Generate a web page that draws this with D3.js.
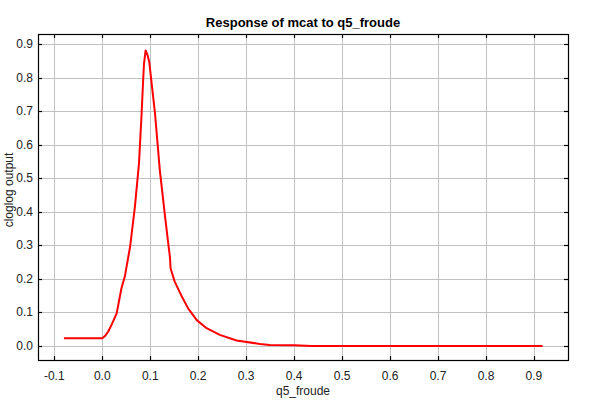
<!DOCTYPE html>
<html lang="en">
<head>
    <meta charset="UTF-8">
    <title>Response of mcat to q5_froude</title>
    <style>
        body { margin: 0; background: #fff; }
        text { font-family: "Liberation Sans", Arial, sans-serif; }
        .grid line { stroke: #c0c0c0; stroke-width: 1px; }
        .tick-label { font-size: 12px; fill: #222; }
    </style>
</head>
<body>
    <div id="chart"></div>
    <script src="https://d3js.org/d3.v7.min.js"></script>
    <script>
        // response curve
        const xVals = [-0.08, 0.0, 0.006, 0.0125, 0.02, 0.03, 0.040, 0.047, 0.058, 0.068, 0.0765, 0.082, 0.0855, 0.087, 0.0904,
            0.0946, 0.098, 0.103, 0.110, 0.120, 0.131, 0.1375, 0.141, 0.1425, 0.151, 0.165, 0.179, 0.197, 0.2175, 0.245, 0.280,
            0.3285, 0.349, 0.40, 0.436, 0.60, 0.80, 0.918];
        const yVals = [0.023, 0.023, 0.030, 0.043, 0.065, 0.097, 0.172, 0.207, 0.296, 0.415, 0.544, 0.693, 0.802, 0.842, 0.882,
            0.867, 0.847, 0.783, 0.693, 0.524, 0.385, 0.306, 0.266, 0.231, 0.192, 0.150, 0.112, 0.077, 0.053, 0.033, 0.016,
            0.006, 0.003, 0.002, 0.0, 0.0, 0.0, 0.0];
        const xTicks = [-0.1, 0.0, 0.1, 0.2, 0.3, 0.4, 0.5, 0.6, 0.7, 0.8, 0.9];
        const yTicks = [0.0, 0.1, 0.2, 0.3, 0.4, 0.5, 0.6, 0.7, 0.8, 0.9];

        const width = 600, height = 400;
        const plot = { left: 38, right: 568, top: 34, bottom: 360 };

        const svg = d3.select("#chart").append("svg")
            .attr("width", width)
            .attr("height", height);

        const x = d3.scaleLinear().domain([-0.134, 0.971]).range([plot.left, plot.right]);
        const y = d3.scaleLinear().domain([-0.042, 0.931]).range([plot.bottom, plot.top]);
        const fmt = d => d.toFixed(1);

        // grid
        const grid = svg.append("g").attr("class", "grid");
        grid.selectAll(".vx").data(xTicks).enter().append("line")
            .attr("x1", d => Math.round(x(d)) + 0.5).attr("x2", d => Math.round(x(d)) + 0.5)
            .attr("y1", plot.top).attr("y2", plot.bottom);
        grid.selectAll(".hy").data(yTicks).enter().append("line")
            .attr("y1", d => Math.round(y(d)) + 0.5).attr("y2", d => Math.round(y(d)) + 0.5)
            .attr("x1", plot.left).attr("x2", plot.right);

        // curve
        const pts = xVals.map((v, i) => [v, yVals[i]]);
        svg.append("path")
            .datum(pts)
            .attr("fill", "none")
            .attr("stroke", "#ff0000")
            .attr("stroke-width", 2)
            .attr("stroke-linejoin", "round")
            .attr("d", d3.line().x(d => x(d[0])).y(d => y(d[1])));

        // border
        svg.append("rect")
            .attr("x", plot.left + 0.5).attr("y", plot.top + 0.5)
            .attr("width", plot.right - plot.left).attr("height", plot.bottom - plot.top)
            .attr("fill", "none").attr("stroke", "#000").attr("stroke-width", 1.2);

        // inner ticks on all four sides
        const tickLen = 4;
        const ticks = svg.append("g").attr("stroke", "#000").attr("stroke-width", 1.2);
        xTicks.forEach(t => {
            const px = Math.round(x(t)) + 0.5;
            ticks.append("line").attr("x1", px).attr("x2", px).attr("y1", plot.top).attr("y2", plot.top + tickLen);
            ticks.append("line").attr("x1", px).attr("x2", px).attr("y1", plot.bottom + 0.5).attr("y2", plot.bottom - tickLen);
        });
        yTicks.forEach(t => {
            const py = Math.round(y(t)) + 0.5;
            ticks.append("line").attr("y1", py).attr("y2", py).attr("x1", plot.left).attr("x2", plot.left + tickLen);
            ticks.append("line").attr("y1", py).attr("y2", py).attr("x1", plot.right + 0.5).attr("x2", plot.right - tickLen);
        });

        // tick labels
        svg.selectAll(".xl").data(xTicks).enter().append("text")
            .attr("class", "tick-label")
            .attr("x", d => x(d)).attr("y", 380)
            .attr("text-anchor", "middle")
            .text(fmt);
        svg.selectAll(".yl").data(yTicks).enter().append("text")
            .attr("class", "tick-label")
            .attr("x", 33).attr("y", d => y(d) + 4)
            .attr("text-anchor", "end")
            .text(fmt);

        // titles
        svg.append("text")
            .attr("x", (plot.left + plot.right) / 2).attr("y", 27)
            .attr("text-anchor", "middle")
            .attr("font-size", 13).attr("font-weight", "bold")
            .text("Response of mcat to q5_froude");
        svg.append("text")
            .attr("x", (plot.left + plot.right) / 2).attr("y", 395)
            .attr("text-anchor", "middle")
            .attr("font-size", 12).attr("fill", "#222")
            .text("q5_froude");
        svg.append("text")
            .attr("transform", "translate(13,190) rotate(-90)")
            .attr("text-anchor", "middle")
            .attr("font-size", 12).attr("fill", "#222")
            .text("cloglog output");
    </script>
</body>
</html>
